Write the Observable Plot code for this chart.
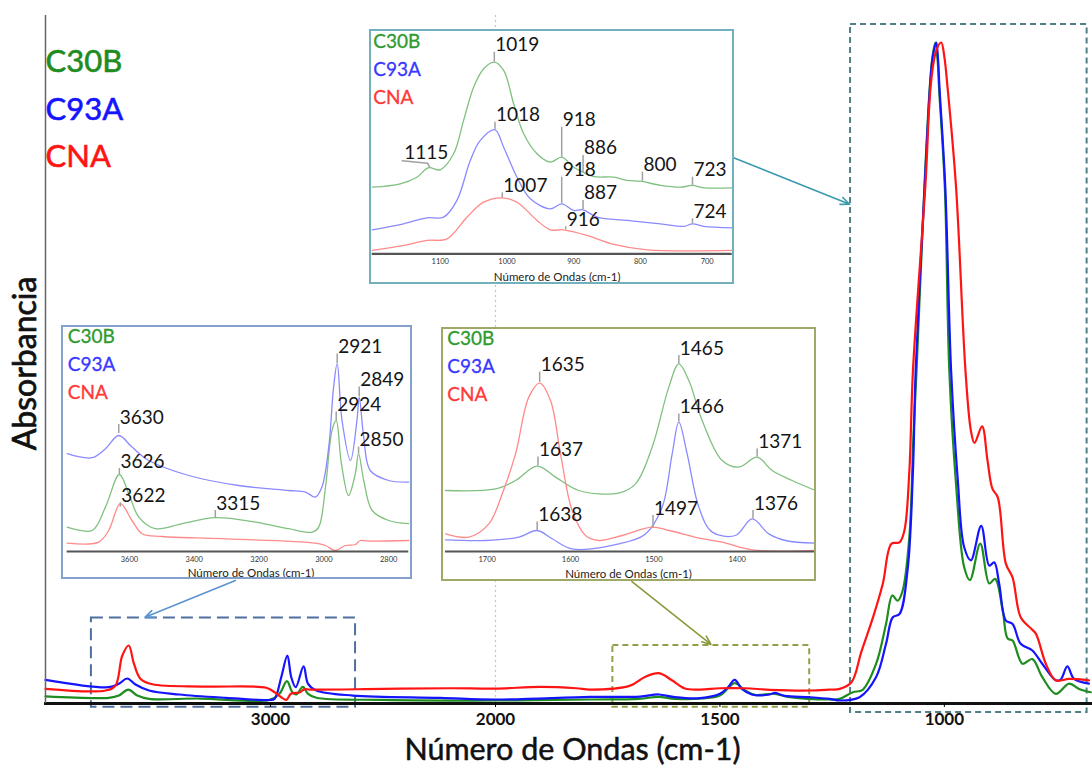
<!DOCTYPE html>
<html><head><meta charset="utf-8">
<script src="https://cdn.jsdelivr.net/npm/d3@7"></script>
<script src="https://cdn.jsdelivr.net/npm/@observablehq/plot@0.6"></script>
<style>
body{margin:0;background:#fff;font-family:Lato,sans-serif}
#wrap{position:relative;width:1092px;height:769px;overflow:hidden}
.inset{position:absolute;background:#fff}
.inset svg{display:block}
</style>
</head><body><div id="wrap"></div>
<script>
// ---------- series names / colours ----------
const seriesNames = ["C30B", "C93A", "CNA"];
const mainColors = ["#1f8c1f", "#1414ff", "#ff1414"];
const insetLegendColors = ["#2f9a2f", "#3838ff", "#ff3838"];
const insetLineColors = ["#80c080", "#8a8aff", "#ff8a8a"];

// ---------- main spectrum: [wavenumber cm-1, absorbance (% of max)] ----------
const mainTicks = [3000, 2000, 1500, 1000];
const mainDomain = [4000, 2000, 670];

const mainC30B = [[4000,1.06],[3719,0.86],[3674,1.2],[3632,2.1],[3592,1.2],[3540,0.7],[3315,0.75],[3004,0.55],[2960,1.46],[2927,3.36],[2903,1.7],[2885,1.36],[2856,2.5],[2833,1.46],[2796,0.86],[2500,0.55],[2000,0.45],[1789,0.6],[1680,0.7],[1637,1.0],[1600,0.7],[1540,0.75],[1500,1.2],[1467,3.06],[1444,1.96],[1422,1.3],[1378,1.46],[1344,0.95],[1256,0.6],[1233,0.7],[1204,1.7],[1182,2.07],[1152,6.0],[1130,12.0],[1116,16.3],[1104,15.5],[1093,17.0],[1078,25.1],[1069,40.2],[1062,50.2],[1044,78.5],[1032,93.5],[1026,97.8],[1020,99.7],[1015,97],[1012,93],[999,77.9],[989,50.2],[974,33.1],[956,20.6],[943,18.6],[920,24.1],[900,18.1],[887,18.8],[870,14.0],[859,9.8],[848,9.5],[826,6.0],[804,6.7],[782,4.0],[752,1.46],[722,3.0],[700,2.2],[674,1.7]];

const mainC93A = [[4000,3.57],[3719,2.46],[3674,2.97],[3637,3.77],[3600,2.87],[3540,1.96],[3406,1.36],[3198,0.86],[3004,0.53],[2982,0.7],[2952,4.0],[2925,7.24],[2908,4.0],[2888,2.46],[2853,5.6],[2833,2.97],[2796,1.96],[2634,1.2],[2246,0.86],[2000,0.6],[1789,1.0],[1678,1.05],[1636,1.36],[1600,0.95],[1544,0.8],[1500,1.46],[1482,2.46],[1467,3.57],[1451,2.2],[1429,1.36],[1389,1.36],[1378,1.6],[1356,1.16],[1300,0.95],[1256,0.7],[1233,0.45],[1189,0.95],[1152,4.0],[1130,9.0],[1115,13.0],[1100,13.5],[1082,20.1],[1070,35.1],[1064,50.2],[1044,77.9],[1032,93],[1026,97.5],[1018,99.7],[1014,97],[1011,93],[998,77.9],[985,50.2],[970,33.6],[956,23.6],[941,21.6],[918,26.8],[900,20.8],[889,21.3],[878,18.1],[863,12.5],[848,12.0],[830,9.0],[804,8.0],[782,6.0],[752,3.5],[741,3.6],[726,5.6],[711,3.7],[678,3.0]];

const mainCNA = [[4000,2.2],[3733,1.96],[3689,2.7],[3659,7.2],[3630,8.75],[3607,6.0],[3577,3.7],[3525,2.9],[3287,2.56],[3019,2.37],[2982,1.7],[2952,0.95],[2930,0.55],[2908,1.5],[2871,1.66],[2848,2.16],[2826,2.1],[2500,2.2],[2200,2.3],[2000,2.25],[1900,2.5],[1820,2.3],[1789,2.1],[1700,2.7],[1667,4.0],[1636,4.57],[1607,3.5],[1578,2.26],[1544,2.1],[1500,2.3],[1444,2.3],[1389,2.07],[1300,1.96],[1256,2.1],[1233,2.2],[1207,3.2],[1185,7.8],[1159,13.0],[1137,18.1],[1118,24.1],[1100,24.3],[1089,26.1],[1078,35.1],[1070,50.2],[1042,78.5],[1030,93.5],[1018,98.5],[1007,99.7],[1000,97.5],[993,93],[974,77.9],[953,50.2],[941,41.2],[933,39.3],[916,41.8],[904,36.7],[893,32.4],[881,31.1],[863,21.1],[848,19.0],[830,13.0],[807,11.3],[796,10.5],[774,6.0],[752,3.5],[722,3.7],[678,3.5]];

// zoom boxes and arrows in main-chart data units
const zoomBoxes = [
  {w1:3796, w2:2622, a1:-0.56, a2:12.9, c:"#4f6f9f", dash:"12,6"},
  {w1:1738.5, w2:1300, a1:-0.56, a2:8.75, c:"#93a04a", dash:"6,4"},
  {w1:1209, w2:682, a1:-1.36, a2:102.4, c:"#4f7f88", dash:"6,4"}
];
const zoomArrows = [
  {w1:3156, a1:18.55, w2:3558, a2:13.0, c:"#5b93d0"},
  {w1:1696, a1:18.4, w2:1520, a2:8.9, c:"#8c9a3c"},
  {w1:1471, a1:82.35, w2:1211, a2:75.3, c:"#3a9aae"}
];

// ---------- inset 1 : 3800-2740 ----------
const insetOHTicks = [3600, 3400, 3200, 3000, 2800];
const insetOH_C30B = [[3792,12.2],[3715,10.5],[3674,22.2],[3631,38.5],[3602,28.9],[3571,17.2],[3520,11.4],[3437,13.9],[3335,16.9],[3211,14.7],[3109,11.4],[3036,9.7],[3016,12.2],[2995,32.2],[2975,60.5],[2962,65.5],[2946,43.9],[2924,28],[2903,38.9],[2893,48.9],[2877,35.5],[2851,20.5],[2800,15.5],[2738,13.9]];
const insetOH_C93A = [[3792,48.9],[3715,46.9],[3674,51.4],[3633,58],[3592,52.2],[3540,45.5],[3417,38],[3263,33],[3109,30.5],[3057,29.7],[3026,27.2],[3006,32.2],[2985,52.2],[2970,82.2],[2959,93.9],[2944,65.5],[2918,45.5],[2898,65.5],[2891,77.2],[2877,57.2],[2857,40.5],[2800,35.5],[2738,34.7]];
const insetOH_CNA = [[3792,4.2],[3695,4.7],[3664,10.5],[3628,23.9],[3592,15.5],[3561,8.9],[3499,7.5],[3314,6.4],[3026,4.2],[2995,3],[2965,0.5],[2934,3],[2903,3.5],[2888,5.5],[2862,5.2],[2738,5.5]];
const insetOHLabels = [
  {t:"3630",w:3633,v0:59,v1:63.5},{t:"3626",w:3631,v0:38.5,v1:41.5},{t:"3622",w:3628,v0:22.2,v1:24.3},
  {t:"3315",w:3335,v0:16.9,v1:20.5},{t:"2921",w:2959,v0:94,v1:98.8},{t:"2849",w:2891,v0:77.2,v1:82.2},
  {t:"2924",w:2962,v0:65.5,v1:69.7},{t:"2850",w:2893,v0:48.9,v1:52.2}
];

// ---------- inset 2 : 1750-1306 ----------
const insetCHTicks = [1700, 1600, 1500, 1400];
const insetCH_C30B = [[1750,30.5],[1690,31.3],[1666,35.5],[1640,42.7],[1618,37.2],[1590,30.5],[1542,29.2],[1522,33.8],[1502,52.2],[1482,82.2],[1470,93.8],[1458,85.5],[1442,65.5],[1418,45.5],[1398,42.2],[1376,47.2],[1358,40.5],[1334,35.5],[1306,30.5]];
const insetCH_C93A = [[1750,5.8],[1702,5.5],[1662,7.2],[1640,10.5],[1622,6.4],[1598,1.3],[1542,3.8],[1510,8.8],[1490,22.2],[1478,48.8],[1470,64.7],[1460,48.8],[1446,22.2],[1430,9.7],[1402,8],[1382,16.3],[1362,8.8],[1342,5.5],[1306,4.2]];
const insetCH_CNA = [[1750,8.8],[1722,7.2],[1698,13.8],[1682,28.8],[1666,48.8],[1650,77.2],[1637,84.2],[1624,75.5],[1612,48.8],[1598,20.5],[1582,8],[1566,5.5],[1538,8],[1502,12.2],[1482,10.5],[1442,6.4],[1418,4.7],[1382,0.8],[1306,0.5]];
const insetCHLabels = [
  {t:"1635",w:1637,v0:84.5,v1:89.7},{t:"1637",w:1639,v0:42.7,v1:47.2},{t:"1638",w:1640,v0:10.5,v1:14.7},
  {t:"1465",w:1470,v0:93.8,v1:98},{t:"1466",w:1470,v0:64.7,v1:68.8},{t:"1371",w:1376,v0:47.2,v1:51.3},
  {t:"1376",w:1381,v0:16.3,v1:20.5},{t:"1497",w:1501,v0:11.8,v1:18}
];

// ---------- inset 3 : 1200-662 ----------
const insetFPTicks = [1100, 1000, 900, 800, 700];
const insetFP_C30B = [[1202,33.3],[1160,35],[1135,38.3],[1118,43],[1100,42],[1080,50],[1065,66.7],[1050,83.3],[1035,92.5],[1019,95.8],[1005,91.7],[990,75],[975,60],[955,50],[935,45.8],[918,48.3],[900,43.3],[886,40.8],[870,38.6],[840,38.3],[820,36.7],[800,36.3],[770,34.2],[740,33.3],[722,34.2],[705,33],[662,33]];
const insetFP_C93A = [[1202,12],[1155,15],[1120,18],[1095,18.3],[1075,26.7],[1055,46.7],[1040,56.7],[1018,62],[1005,53.3],[985,38.3],[965,27.5],[935,22.5],[918,25],[900,21.7],[886,22],[865,18.3],[820,16.7],[770,15],[735,13.7],[722,15],[705,13.7],[662,13]];
const insetFP_CNA = [[1202,1.7],[1155,4.2],[1120,6.7],[1090,7.5],[1060,18.3],[1035,25.8],[1007,28],[985,25.8],[955,16.7],[935,12],[915,12],[880,9.2],[840,4.7],[790,2],[662,1.7]];
const insetFPLabels = [
  {t:"1019",w:1019,v0:95.8,v1:100.8},{t:"1018",w:1018,v0:62,v1:65.8},{t:"1007",w:1007,v0:28,v1:30.5},
  {t:"918",w:918,v0:48.3,v1:63.3},{t:"886",w:886,v0:40.8,v1:49.2},{t:"800",w:797,v0:36.3,v1:40.8},
  {t:"723",w:722,v0:34.2,v1:38.3},{t:"918",w:918,v0:25,v1:38.3},{t:"887",w:886,v0:22,v1:26.7},
  {t:"916",w:912,v0:12,v1:13.5},{t:"724",w:722,v0:15,v1:17.5}
];
const label1115 = [{t:"1115", w:1154, v:47.3}];
const leader1115 = [[1157,46.5],[1119,45.3],[1116,43.3]];

const xTitle = "Número de Ondas (cm-1)";
const yTitle = "Absorbancia";
const FONT = "Lato, 'Open Sans', sans-serif";

// ---------- helpers ----------
function lineMarks(arrays, colors, width) {
  return arrays.map((arr, i) => Plot.line(arr, {x: d => d[0], y: d => d[1], stroke: colors[i], strokeWidth: width, curve: "catmull-rom"}));
}
function legendMarks(colors, fontSize, dx, base, step, halo) {
  return seriesNames.map((n, i) => Plot.text([n], {frameAnchor: "top-left", textAnchor: "start", lineAnchor: "middle", dx, dy: base + i * step,
    fill: colors[i], stroke: halo ? colors[i] : undefined, strokeWidth: halo || undefined, fontSize, text: d => d}));
}
function peakLabelMarks(labels) {
  return [
    Plot.ruleX(labels, {x: "w", y1: "v0", y2: "v1", stroke: "#a0a0a0", strokeWidth: 1.5}),
    Plot.text(labels, {x: "w", y: "v1", text: "t", textAnchor: "start", lineAnchor: "bottom", dx: 1, dy: -1, fontSize: 19, fill: "#151515"})
  ];
}

const wrap = document.getElementById("wrap");

// ---------- main chart ----------
const main = Plot.plot({
  width: 1092, height: 769,
  marginLeft: 44, marginRight: 0, marginTop: 15, marginBottom: 66,
  x: {type: "linear", domain: mainDomain, range: [45, 495, 1092]},
  y: {domain: [0, 103.77], axis: null},
  style: {fontFamily: FONT, background: "transparent", overflow: "visible"},
  marks: [
    Plot.ruleX([2000], {stroke: "#c4c4c4", strokeDasharray: "2,3", strokeWidth: 1.2}),
    ...zoomBoxes.map(b => Plot.rect([b], {x1: "w1", x2: "w2", y1: "a1", y2: "a2", fill: "none", stroke: b.c, strokeWidth: 2, strokeDasharray: b.dash})),
    ...zoomArrows.map(a => Plot.arrow([a], {x1: "w1", y1: "a1", x2: "w2", y2: "a2", stroke: a.c, strokeWidth: 1.6, headLength: 9, headAngle: 45})),
    ...lineMarks([mainC30B, mainC93A, mainCNA], mainColors, 2.2),
    Plot.ruleY([0], {stroke: "#111", strokeWidth: 3}),
    Plot.ruleX([4000], {stroke: "#666", strokeWidth: 1.5}),
    Plot.axisX({ticks: mainTicks, tickFormat: d => String(d), tickSize: 4, tickPadding: 5, fontSize: 17, fontWeight: "bold", label: null, fill: "#111"}),
    Plot.text([xTitle], {frameAnchor: "bottom", dy: 47, dx: 4, lineAnchor: "middle", textAnchor: "middle", fontSize: 30.5, fill: "#111", stroke: "#111", strokeWidth: 0.5, text: d => d}),
    Plot.text([yTitle], {frameAnchor: "left", dx: -19, dy: 4, rotate: -90, lineAnchor: "middle", textAnchor: "middle", fontSize: 32, fill: "#111", stroke: "#111", strokeWidth: 0.7, text: d => d}),
    ...legendMarks(mainColors, 31, 1, 47, 47.5, 0.6)
  ]
});
wrap.appendChild(main);
main.style.position = "absolute"; main.style.left = "0px"; main.style.top = "0px";

// ---------- insets ----------
function makeInset(cfg) {
  const div = document.createElement("div");
  div.className = "inset";
  Object.assign(div.style, {left: cfg.left + "px", top: cfg.top + "px", width: cfg.width + "px", height: cfg.height + "px",
    outline: `2px solid ${cfg.frame}`, outlineOffset: "-1px"});
  const p = Plot.plot({
    width: cfg.width, height: cfg.height,
    marginLeft: cfg.m[0], marginRight: cfg.m[1], marginTop: cfg.m[2], marginBottom: cfg.m[3],
    x: {domain: cfg.xDomain},
    y: {domain: cfg.yDomain, axis: null},
    style: {fontFamily: FONT, background: "#fff", overflow: "visible"},
    marks: [
      ...lineMarks(cfg.series, insetLineColors, 1.3),
      ...(cfg.extra || []),
      ...peakLabelMarks(cfg.labels),
      Plot.ruleY([0], {stroke: "#555", strokeWidth: 2.2}),
      Plot.axisX({ticks: cfg.ticks, tickFormat: d => String(d), tickSize: 0, tickPadding: 5, fontSize: 7.5, label: null, fill: "#333"}),
      Plot.text([xTitle], {frameAnchor: "bottom", dx: cfg.xl[0], dy: cfg.xl[1], lineAnchor: "middle", fontSize: 11.5, fill: "#222", text: d => d}),
      ...legendMarks(insetLegendColors, 19, cfg.leg[0], cfg.leg[1], 28, 0.3)
    ]
  });
  div.appendChild(p);
  wrap.appendChild(div);
}

makeInset({left: 370, top: 30, width: 363, height: 253, frame: "#72b0be",
  m: [1.7, 1.3, 13.3, 29.7], xDomain: [1202, 662.5], yDomain: [0, 105], ticks: insetFPTicks,
  series: [insetFP_C30B, insetFP_C93A, insetFP_CNA], labels: insetFPLabels,
  extra: [
    Plot.line(leader1115, {x: d => d[0], y: d => d[1], stroke: "#a0a0a0", strokeWidth: 1.5}),
    Plot.text(label1115, {x: "w", y: "v", text: "t", textAnchor: "start", lineAnchor: "bottom", fontSize: 19, fill: "#151515"})
  ],
  xl: [5, 23.4], leg: [1, -1.6]});

makeInset({left: 62, top: 326, width: 349, height: 252, frame: "#86a0cc",
  m: [4.7, 2.7, 14, 27], xDomain: [3792, 2738], yDomain: [0, 105.5], ticks: insetOHTicks,
  series: [insetOH_C30B, insetOH_C93A, insetOH_CNA], labels: insetOHLabels,
  xl: [13, 22], leg: [0.5, -3.3]});

makeInset({left: 442, top: 328, width: 373, height: 252, frame: "#a0a868",
  m: [3, 0, 12, 29], xDomain: [1750, 1306], yDomain: [0, 105.5], ticks: insetCHTicks,
  series: [insetCH_C30B, insetCH_C93A, insetCH_CNA], labels: insetCHLabels,
  xl: [-2, 23], leg: [1.7, -2]});
</script>
</body></html>
